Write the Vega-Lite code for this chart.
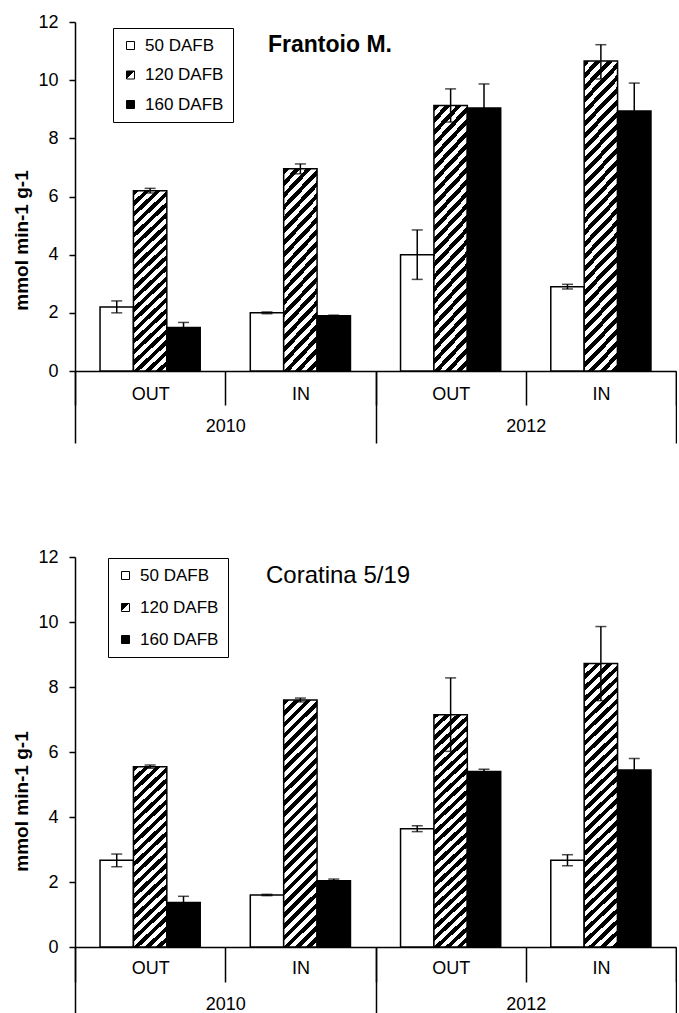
{
"$schema": "https://vega.github.io/schema/vega-lite/v6.json",
"background": "white",
"padding": {"left": 12, "top": 13, "right": 0, "bottom": 0},
"params": [
{"name": "gradL", "value": {"gradient": "linear", "x1": 0, "y1": 0, "x2": 1, "y2": 1, "stops": [{"offset":0,"color":"#000"},{"offset":0.5,"color":"#000"},{"offset":0.5,"color":"#fff"},{"offset":1,"color":"#fff"}]}},
{"name": "gradA", "value": {"gradient": "linear", "x1": 0, "y1": 0, "x2": 0.2005, "y2": 1.1406, "stops": [
{"offset":0,"color":"#000"},
{"offset":0.025,"color":"#000"},{"offset":0.025,"color":"#fff"},
{"offset":0.05,"color":"#fff"},{"offset":0.05,"color":"#000"},
{"offset":0.075,"color":"#000"},{"offset":0.075,"color":"#fff"},
{"offset":0.1,"color":"#fff"},{"offset":0.1,"color":"#000"},
{"offset":0.125,"color":"#000"},{"offset":0.125,"color":"#fff"},
{"offset":0.15,"color":"#fff"},{"offset":0.15,"color":"#000"},
{"offset":0.175,"color":"#000"},{"offset":0.175,"color":"#fff"},
{"offset":0.2,"color":"#fff"},{"offset":0.2,"color":"#000"},
{"offset":0.225,"color":"#000"},{"offset":0.225,"color":"#fff"},
{"offset":0.25,"color":"#fff"},{"offset":0.25,"color":"#000"},
{"offset":0.275,"color":"#000"},{"offset":0.275,"color":"#fff"},
{"offset":0.3,"color":"#fff"},{"offset":0.3,"color":"#000"},
{"offset":0.325,"color":"#000"},{"offset":0.325,"color":"#fff"},
{"offset":0.35,"color":"#fff"},{"offset":0.35,"color":"#000"},
{"offset":0.375,"color":"#000"},{"offset":0.375,"color":"#fff"},
{"offset":0.4,"color":"#fff"},{"offset":0.4,"color":"#000"},
{"offset":0.425,"color":"#000"},{"offset":0.425,"color":"#fff"},
{"offset":0.45,"color":"#fff"},{"offset":0.45,"color":"#000"},
{"offset":0.475,"color":"#000"},{"offset":0.475,"color":"#fff"},
{"offset":0.5,"color":"#fff"},{"offset":0.5,"color":"#000"},
{"offset":0.525,"color":"#000"},{"offset":0.525,"color":"#fff"},
{"offset":0.55,"color":"#fff"},{"offset":0.55,"color":"#000"},
{"offset":0.575,"color":"#000"},{"offset":0.575,"color":"#fff"},
{"offset":0.6,"color":"#fff"},{"offset":0.6,"color":"#000"},
{"offset":0.625,"color":"#000"},{"offset":0.625,"color":"#fff"},
{"offset":0.65,"color":"#fff"},{"offset":0.65,"color":"#000"},
{"offset":0.675,"color":"#000"},{"offset":0.675,"color":"#fff"},
{"offset":0.7,"color":"#fff"},{"offset":0.7,"color":"#000"},
{"offset":0.725,"color":"#000"},{"offset":0.725,"color":"#fff"},
{"offset":0.75,"color":"#fff"},{"offset":0.75,"color":"#000"},
{"offset":0.775,"color":"#000"},{"offset":0.775,"color":"#fff"},
{"offset":0.8,"color":"#fff"},{"offset":0.8,"color":"#000"},
{"offset":0.825,"color":"#000"},{"offset":0.825,"color":"#fff"},
{"offset":0.85,"color":"#fff"},{"offset":0.85,"color":"#000"},
{"offset":0.875,"color":"#000"},{"offset":0.875,"color":"#fff"},
{"offset":0.9,"color":"#fff"},{"offset":0.9,"color":"#000"},
{"offset":0.925,"color":"#000"},{"offset":0.925,"color":"#fff"},
{"offset":0.95,"color":"#fff"},{"offset":0.95,"color":"#000"},
{"offset":0.975,"color":"#000"},{"offset":0.975,"color":"#fff"},
{"offset":1,"color":"#fff"}]}},
{"name": "gradB", "value": {"gradient": "linear", "x1": 0, "y1": 0, "x2": 0.1501, "y2": 1.1145, "stops": [
{"offset":0,"color":"#000"},
{"offset":0.02,"color":"#000"},{"offset":0.02,"color":"#fff"},
{"offset":0.04,"color":"#fff"},{"offset":0.04,"color":"#000"},
{"offset":0.06,"color":"#000"},{"offset":0.06,"color":"#fff"},
{"offset":0.08,"color":"#fff"},{"offset":0.08,"color":"#000"},
{"offset":0.1,"color":"#000"},{"offset":0.1,"color":"#fff"},
{"offset":0.12,"color":"#fff"},{"offset":0.12,"color":"#000"},
{"offset":0.14,"color":"#000"},{"offset":0.14,"color":"#fff"},
{"offset":0.16,"color":"#fff"},{"offset":0.16,"color":"#000"},
{"offset":0.18,"color":"#000"},{"offset":0.18,"color":"#fff"},
{"offset":0.2,"color":"#fff"},{"offset":0.2,"color":"#000"},
{"offset":0.22,"color":"#000"},{"offset":0.22,"color":"#fff"},
{"offset":0.24,"color":"#fff"},{"offset":0.24,"color":"#000"},
{"offset":0.26,"color":"#000"},{"offset":0.26,"color":"#fff"},
{"offset":0.28,"color":"#fff"},{"offset":0.28,"color":"#000"},
{"offset":0.3,"color":"#000"},{"offset":0.3,"color":"#fff"},
{"offset":0.32,"color":"#fff"},{"offset":0.32,"color":"#000"},
{"offset":0.34,"color":"#000"},{"offset":0.34,"color":"#fff"},
{"offset":0.36,"color":"#fff"},{"offset":0.36,"color":"#000"},
{"offset":0.38,"color":"#000"},{"offset":0.38,"color":"#fff"},
{"offset":0.4,"color":"#fff"},{"offset":0.4,"color":"#000"},
{"offset":0.42,"color":"#000"},{"offset":0.42,"color":"#fff"},
{"offset":0.44,"color":"#fff"},{"offset":0.44,"color":"#000"},
{"offset":0.46,"color":"#000"},{"offset":0.46,"color":"#fff"},
{"offset":0.48,"color":"#fff"},{"offset":0.48,"color":"#000"},
{"offset":0.5,"color":"#000"},{"offset":0.5,"color":"#fff"},
{"offset":0.52,"color":"#fff"},{"offset":0.52,"color":"#000"},
{"offset":0.54,"color":"#000"},{"offset":0.54,"color":"#fff"},
{"offset":0.56,"color":"#fff"},{"offset":0.56,"color":"#000"},
{"offset":0.58,"color":"#000"},{"offset":0.58,"color":"#fff"},
{"offset":0.6,"color":"#fff"},{"offset":0.6,"color":"#000"},
{"offset":0.62,"color":"#000"},{"offset":0.62,"color":"#fff"},
{"offset":0.64,"color":"#fff"},{"offset":0.64,"color":"#000"},
{"offset":0.66,"color":"#000"},{"offset":0.66,"color":"#fff"},
{"offset":0.68,"color":"#fff"},{"offset":0.68,"color":"#000"},
{"offset":0.7,"color":"#000"},{"offset":0.7,"color":"#fff"},
{"offset":0.72,"color":"#fff"},{"offset":0.72,"color":"#000"},
{"offset":0.74,"color":"#000"},{"offset":0.74,"color":"#fff"},
{"offset":0.76,"color":"#fff"},{"offset":0.76,"color":"#000"},
{"offset":0.78,"color":"#000"},{"offset":0.78,"color":"#fff"},
{"offset":0.8,"color":"#fff"},{"offset":0.8,"color":"#000"},
{"offset":0.82,"color":"#000"},{"offset":0.82,"color":"#fff"},
{"offset":0.84,"color":"#fff"},{"offset":0.84,"color":"#000"},
{"offset":0.86,"color":"#000"},{"offset":0.86,"color":"#fff"},
{"offset":0.88,"color":"#fff"},{"offset":0.88,"color":"#000"},
{"offset":0.9,"color":"#000"},{"offset":0.9,"color":"#fff"},
{"offset":0.92,"color":"#fff"},{"offset":0.92,"color":"#000"},
{"offset":0.94,"color":"#000"},{"offset":0.94,"color":"#fff"},
{"offset":0.96,"color":"#fff"},{"offset":0.96,"color":"#000"},
{"offset":0.98,"color":"#000"},{"offset":0.98,"color":"#fff"},
{"offset":1,"color":"#fff"}]}},
{"name": "gradC", "value": {"gradient": "linear", "x1": 0, "y1": 0, "x2": 0.124, "y2": 1.0988, "stops": [
{"offset":0,"color":"#000"},
{"offset":0.0175,"color":"#000"},{"offset":0.0175,"color":"#fff"},
{"offset":0.035,"color":"#fff"},{"offset":0.035,"color":"#000"},
{"offset":0.0525,"color":"#000"},{"offset":0.0525,"color":"#fff"},
{"offset":0.07,"color":"#fff"},{"offset":0.07,"color":"#000"},
{"offset":0.0875,"color":"#000"},{"offset":0.0875,"color":"#fff"},
{"offset":0.105,"color":"#fff"},{"offset":0.105,"color":"#000"},
{"offset":0.1225,"color":"#000"},{"offset":0.1225,"color":"#fff"},
{"offset":0.14,"color":"#fff"},{"offset":0.14,"color":"#000"},
{"offset":0.1575,"color":"#000"},{"offset":0.1575,"color":"#fff"},
{"offset":0.175,"color":"#fff"},{"offset":0.175,"color":"#000"},
{"offset":0.1925,"color":"#000"},{"offset":0.1925,"color":"#fff"},
{"offset":0.21,"color":"#fff"},{"offset":0.21,"color":"#000"},
{"offset":0.2275,"color":"#000"},{"offset":0.2275,"color":"#fff"},
{"offset":0.245,"color":"#fff"},{"offset":0.245,"color":"#000"},
{"offset":0.2625,"color":"#000"},{"offset":0.2625,"color":"#fff"},
{"offset":0.28,"color":"#fff"},{"offset":0.28,"color":"#000"},
{"offset":0.2975,"color":"#000"},{"offset":0.2975,"color":"#fff"},
{"offset":0.315,"color":"#fff"},{"offset":0.315,"color":"#000"},
{"offset":0.3325,"color":"#000"},{"offset":0.3325,"color":"#fff"},
{"offset":0.35,"color":"#fff"},{"offset":0.35,"color":"#000"},
{"offset":0.3675,"color":"#000"},{"offset":0.3675,"color":"#fff"},
{"offset":0.385,"color":"#fff"},{"offset":0.385,"color":"#000"},
{"offset":0.4025,"color":"#000"},{"offset":0.4025,"color":"#fff"},
{"offset":0.42,"color":"#fff"},{"offset":0.42,"color":"#000"},
{"offset":0.4375,"color":"#000"},{"offset":0.4375,"color":"#fff"},
{"offset":0.455,"color":"#fff"},{"offset":0.455,"color":"#000"},
{"offset":0.4725,"color":"#000"},{"offset":0.4725,"color":"#fff"},
{"offset":0.49,"color":"#fff"},{"offset":0.49,"color":"#000"},
{"offset":0.5075,"color":"#000"},{"offset":0.5075,"color":"#fff"},
{"offset":0.525,"color":"#fff"},{"offset":0.525,"color":"#000"},
{"offset":0.5425,"color":"#000"},{"offset":0.5425,"color":"#fff"},
{"offset":0.56,"color":"#fff"},{"offset":0.56,"color":"#000"},
{"offset":0.5775,"color":"#000"},{"offset":0.5775,"color":"#fff"},
{"offset":0.595,"color":"#fff"},{"offset":0.595,"color":"#000"},
{"offset":0.6125,"color":"#000"},{"offset":0.6125,"color":"#fff"},
{"offset":0.63,"color":"#fff"},{"offset":0.63,"color":"#000"},
{"offset":0.6475,"color":"#000"},{"offset":0.6475,"color":"#fff"},
{"offset":0.665,"color":"#fff"},{"offset":0.665,"color":"#000"},
{"offset":0.6825,"color":"#000"},{"offset":0.6825,"color":"#fff"},
{"offset":0.7,"color":"#fff"},{"offset":0.7,"color":"#000"},
{"offset":0.7175,"color":"#000"},{"offset":0.7175,"color":"#fff"},
{"offset":0.735,"color":"#fff"},{"offset":0.735,"color":"#000"},
{"offset":0.7525,"color":"#000"},{"offset":0.7525,"color":"#fff"},
{"offset":0.77,"color":"#fff"},{"offset":0.77,"color":"#000"},
{"offset":0.7875,"color":"#000"},{"offset":0.7875,"color":"#fff"},
{"offset":0.805,"color":"#fff"},{"offset":0.805,"color":"#000"},
{"offset":0.8225,"color":"#000"},{"offset":0.8225,"color":"#fff"},
{"offset":0.84,"color":"#fff"},{"offset":0.84,"color":"#000"},
{"offset":0.8575,"color":"#000"},{"offset":0.8575,"color":"#fff"},
{"offset":0.875,"color":"#fff"},{"offset":0.875,"color":"#000"},
{"offset":0.8925,"color":"#000"},{"offset":0.8925,"color":"#fff"},
{"offset":0.91,"color":"#fff"},{"offset":0.91,"color":"#000"},
{"offset":0.9275,"color":"#000"},{"offset":0.9275,"color":"#fff"},
{"offset":0.945,"color":"#fff"},{"offset":0.945,"color":"#000"},
{"offset":0.9625,"color":"#000"},{"offset":0.9625,"color":"#fff"},
{"offset":0.98,"color":"#fff"},{"offset":0.98,"color":"#000"},
{"offset":0.9975,"color":"#000"},{"offset":0.9975,"color":"#fff"},
{"offset":1,"color":"#fff"}]}}
],
"config": {
  "view": {"stroke": null},
  "font": "Liberation Sans",
  "axis": {"labelFont": "Liberation Sans", "labelFontSize": 18, "labelColor": "black", "domainColor": "black", "tickColor": "black", "domainWidth": 1.5, "tickWidth": 1.5, "grid": false}
},
"spacing": 104,
"resolve": {"scale": {"fill": "independent"}, "legend": {"fill": "independent"}},
"vconcat": [
{
  "title": {"text": "Frantoio M.", "anchor": "start", "frame": "group", "dx": 193, "dy": 55, "offset": 0, "baseline": "middle", "fontSize": 23, "fontWeight": "bold", "font": "Liberation Sans", "color": "black"},
  "width": 601, "height": 349,
  "data": {"values": [
    {"grp": "2010 OUT", "year": "2010", "series": "50 DAFB", "value": 2.2, "lo": 2.0, "hi": 2.41},
    {"grp": "2010 OUT", "year": "2010", "series": "120 DAFB", "value": 6.2, "lo": 6.12, "hi": 6.28},
    {"grp": "2010 OUT", "year": "2010", "series": "160 DAFB", "value": 1.5, "lo": 1.33, "hi": 1.67},
    {"grp": "2010 IN", "year": "2010", "series": "50 DAFB", "value": 2.0, "lo": 1.97, "hi": 2.03},
    {"grp": "2010 IN", "year": "2010", "series": "120 DAFB", "value": 6.95, "lo": 6.78, "hi": 7.12},
    {"grp": "2010 IN", "year": "2010", "series": "160 DAFB", "value": 1.9, "lo": 1.88, "hi": 1.92},
    {"grp": "2012 OUT", "year": "2012", "series": "50 DAFB", "value": 4.0, "lo": 3.15, "hi": 4.85},
    {"grp": "2012 OUT", "year": "2012", "series": "120 DAFB", "value": 9.13, "lo": 8.56, "hi": 9.7},
    {"grp": "2012 OUT", "year": "2012", "series": "160 DAFB", "value": 9.04, "lo": 8.21, "hi": 9.87},
    {"grp": "2012 IN", "year": "2012", "series": "50 DAFB", "value": 2.9, "lo": 2.82, "hi": 2.98},
    {"grp": "2012 IN", "year": "2012", "series": "120 DAFB", "value": 10.66, "lo": 10.04, "hi": 11.22},
    {"grp": "2012 IN", "year": "2012", "series": "160 DAFB", "value": 8.94, "lo": 7.98, "hi": 9.9}
  ]},
  "resolve": {"scale": {"x": "independent"}, "axis": {"x": "independent"}},
  "layer": [
    {
      "encoding": {
        "x": {"field": "grp", "type": "nominal", "sort": ["2010 OUT", "2010 IN", "2012 OUT", "2012 IN"], "scale": {"paddingInner": 0, "paddingOuter": 0},
              "axis": {"title": null, "orient": "bottom", "tickBand": "extent", "tickSize": 34, "labelPadding": -20, "labelAngle": 0, "labelExpr": "split(datum.label, ' ')[1]"}},
        "xOffset": {"field": "series", "type": "nominal", "sort": ["50 DAFB", "120 DAFB", "160 DAFB"], "scale": {"paddingOuter": 0.75, "paddingInner": 0}}
      },
      "layer": [
        {"mark": {"type": "bar", "stroke": "black", "strokeWidth": 1.5},
         "encoding": {
           "y": {"field": "value", "type": "quantitative", "title": "mmol min-1 g-1", "scale": {"domain": [0, 12], "nice": false},
                 "axis": {"values": [0, 2, 4, 6, 8, 10, 12], "tickSize": 6, "labelPadding": 11, "titleFont": "Liberation Sans Narrow, Liberation Sans", "titleFontSize": 19, "titleFontWeight": "bold", "titleColor": "black", "titleAngle": -90, "titleX": -54, "titleY": 218, "titleBaseline": "middle", "titleAlign": "center"}},
           "fill": {
             "condition": [
               {"test": "datum.series === '120 DAFB' && datum.value < 7.5", "value": {"expr": "gradA"}},
               {"test": "datum.series === '120 DAFB' && datum.value < 10", "value": {"expr": "gradB"}},
               {"test": "datum.series === '120 DAFB'", "value": {"expr": "gradC"}}
             ],
             "field": "series", "type": "nominal",
             "scale": {"domain": ["50 DAFB", "120 DAFB", "160 DAFB"], "range": ["#ffffff", {"expr": "gradL"}, "#000000"]},
             "legend": {"title": null, "orient": "none", "legendX": 38, "legendY": 6, "symbolType": "square", "symbolSize": 64, "symbolStrokeColor": "black", "symbolStrokeWidth": 1, "labelFontSize": 17, "labelFont": "Liberation Sans", "labelColor": "black", "labelOffset": 6, "rowPadding": 11.5, "padding": 9, "strokeColor": "black", "fillColor": "white"}
           }
         }},
        {"mark": {"type": "rule", "color": "black", "strokeWidth": 1.5},
         "encoding": {"y": {"field": "lo", "type": "quantitative", "title": "mmol min-1 g-1"}, "y2": {"field": "hi"}}},
        {"mark": {"type": "tick", "color": "black", "thickness": 1.5, "size": 11},
         "encoding": {"y": {"field": "lo", "type": "quantitative", "title": "mmol min-1 g-1"}}},
        {"mark": {"type": "tick", "color": "black", "thickness": 1.5, "size": 11},
         "encoding": {"y": {"field": "hi", "type": "quantitative", "title": "mmol min-1 g-1"}}}
      ]
    },
    {
      "mark": {"type": "rule", "opacity": 0},
      "encoding": {"x": {"field": "year", "type": "nominal", "scale": {"paddingInner": 0, "paddingOuter": 0},
        "axis": {"title": null, "orient": "bottom", "domain": false, "tickBand": "extent", "tickSize": 72, "labelPadding": -26, "labelAngle": 0}}}
    }
  ]
},
{
  "title": {"text": "Coratina 5/19", "anchor": "start", "frame": "group", "dx": 191, "dy": 52, "offset": 0, "baseline": "middle", "fontSize": 24, "fontWeight": "normal", "font": "Liberation Sans", "color": "black"},
  "width": 601, "height": 390,
  "data": {"values": [
    {"grp": "2010 OUT", "year": "2010", "series": "50 DAFB", "value": 2.67, "lo": 2.47, "hi": 2.86},
    {"grp": "2010 OUT", "year": "2010", "series": "120 DAFB", "value": 5.55, "lo": 5.5, "hi": 5.6},
    {"grp": "2010 OUT", "year": "2010", "series": "160 DAFB", "value": 1.37, "lo": 1.18, "hi": 1.56},
    {"grp": "2010 IN", "year": "2010", "series": "50 DAFB", "value": 1.6, "lo": 1.58, "hi": 1.62},
    {"grp": "2010 IN", "year": "2010", "series": "120 DAFB", "value": 7.6, "lo": 7.54, "hi": 7.66},
    {"grp": "2010 IN", "year": "2010", "series": "160 DAFB", "value": 2.04, "lo": 1.99, "hi": 2.09},
    {"grp": "2012 OUT", "year": "2012", "series": "50 DAFB", "value": 3.64, "lo": 3.55, "hi": 3.73},
    {"grp": "2012 OUT", "year": "2012", "series": "120 DAFB", "value": 7.15, "lo": 6.02, "hi": 8.28},
    {"grp": "2012 OUT", "year": "2012", "series": "160 DAFB", "value": 5.4, "lo": 5.33, "hi": 5.47},
    {"grp": "2012 IN", "year": "2012", "series": "50 DAFB", "value": 2.67, "lo": 2.5, "hi": 2.84},
    {"grp": "2012 IN", "year": "2012", "series": "120 DAFB", "value": 8.72, "lo": 7.58, "hi": 9.86},
    {"grp": "2012 IN", "year": "2012", "series": "160 DAFB", "value": 5.45, "lo": 5.1, "hi": 5.8}
  ]},
  "resolve": {"scale": {"x": "independent"}, "axis": {"x": "independent"}},
  "layer": [
    {
      "encoding": {
        "x": {"field": "grp", "type": "nominal", "sort": ["2010 OUT", "2010 IN", "2012 OUT", "2012 IN"], "scale": {"paddingInner": 0, "paddingOuter": 0},
              "axis": {"title": null, "orient": "bottom", "tickBand": "extent", "tickSize": 35, "labelPadding": -23, "labelAngle": 0, "labelExpr": "split(datum.label, ' ')[1]"}},
        "xOffset": {"field": "series", "type": "nominal", "sort": ["50 DAFB", "120 DAFB", "160 DAFB"], "scale": {"paddingOuter": 0.75, "paddingInner": 0}}
      },
      "layer": [
        {"mark": {"type": "bar", "stroke": "black", "strokeWidth": 1.5},
         "encoding": {
           "y": {"field": "value", "type": "quantitative", "title": "mmol min-1 g-1", "scale": {"domain": [0, 12], "nice": false},
                 "axis": {"values": [0, 2, 4, 6, 8, 10, 12], "tickSize": 6, "labelPadding": 11, "titleFont": "Liberation Sans Narrow, Liberation Sans", "titleFontSize": 19, "titleFontWeight": "bold", "titleColor": "black", "titleAngle": -90, "titleX": -54, "titleY": 244, "titleBaseline": "middle", "titleAlign": "center"}},
           "fill": {
             "condition": [
               {"test": "datum.series === '120 DAFB' && datum.value < 6", "value": {"expr": "gradA"}},
               {"test": "datum.series === '120 DAFB' && datum.value < 8", "value": {"expr": "gradB"}},
               {"test": "datum.series === '120 DAFB'", "value": {"expr": "gradC"}}
             ],
             "field": "series", "type": "nominal",
             "scale": {"domain": ["50 DAFB", "120 DAFB", "160 DAFB"], "range": ["#ffffff", {"expr": "gradL"}, "#000000"]},
             "legend": {"title": null, "orient": "none", "legendX": 33, "legendY": 1, "symbolType": "square", "symbolSize": 64, "symbolStrokeColor": "black", "symbolStrokeWidth": 1, "labelFontSize": 17, "labelFont": "Liberation Sans", "labelColor": "black", "labelOffset": 6, "rowPadding": 14, "padding": 9, "strokeColor": "black", "fillColor": "white"}
           }
         }},
        {"mark": {"type": "rule", "color": "black", "strokeWidth": 1.5},
         "encoding": {"y": {"field": "lo", "type": "quantitative", "title": "mmol min-1 g-1"}, "y2": {"field": "hi"}}},
        {"mark": {"type": "tick", "color": "black", "thickness": 1.5, "size": 11},
         "encoding": {"y": {"field": "lo", "type": "quantitative", "title": "mmol min-1 g-1"}}},
        {"mark": {"type": "tick", "color": "black", "thickness": 1.5, "size": 11},
         "encoding": {"y": {"field": "hi", "type": "quantitative", "title": "mmol min-1 g-1"}}}
      ]
    },
    {
      "mark": {"type": "rule", "opacity": 0},
      "encoding": {"x": {"field": "year", "type": "nominal", "scale": {"paddingInner": 0, "paddingOuter": 0},
        "axis": {"title": null, "orient": "bottom", "domain": false, "tickBand": "extent", "tickSize": 72, "labelPadding": -24, "labelAngle": 0}}}
    }
  ]
}
]
}
